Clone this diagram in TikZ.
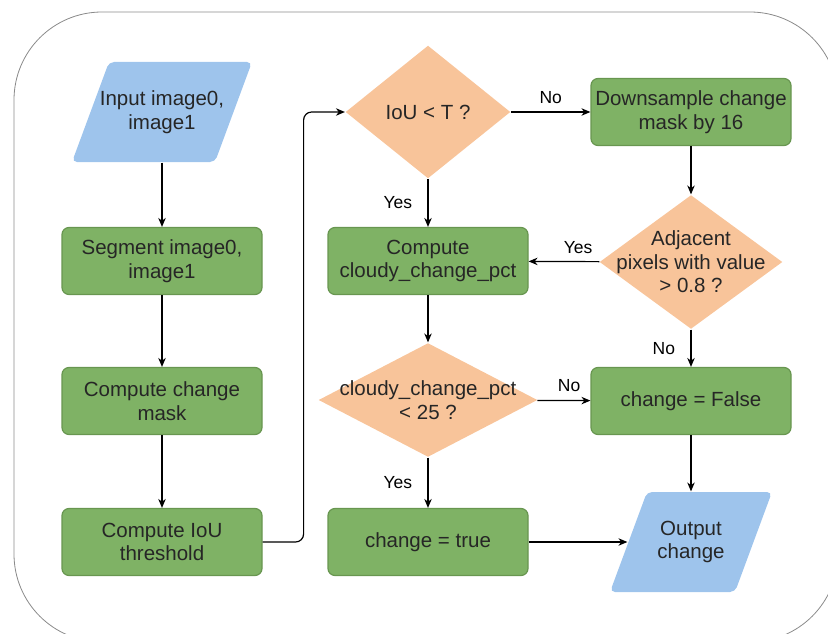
\documentclass[tikz,border=0pt]{standalone}
\usepackage{fontspec}
\setmainfont{Liberation Sans}
\usetikzlibrary{shapes.geometric,arrows.meta}

\definecolor{boxgreen}{HTML}{7FB265}
\definecolor{boxgreenline}{HTML}{689650}
\definecolor{decorange}{HTML}{F8C49A}
\definecolor{ioblue}{HTML}{9EC4EC}
\definecolor{framegray}{HTML}{8A8A8A}

\begin{document}
\begin{tikzpicture}[
    x=1pt, y=-1pt,
    line width=1.2pt,
    >={Stealth[length=9pt,width=7.5pt]},
    font=\fontsize{20.5}{23.5}\selectfont,
    stepbox/.style={
        rectangle,
        rounded corners=7pt,
        draw=boxgreenline,
        fill=boxgreen,
        align=center,
        minimum width=200pt,
        minimum height=67pt,
        text=black!85,
    },
    decision/.style={
        diamond,
        fill=decorange,
        align=center,
        inner xsep=-60pt,
        inner ysep=-20pt,
        text=black!85,
    },
    iobox/.style={
        rectangle,
        align=center,
        minimum height=100pt,
        text=black!85,
        path picture={
            \fill[ioblue, rounded corners=5pt]
                ([xshift=37pt]path picture bounding box.north west)
                -- (path picture bounding box.north east)
                -- ([xshift=-37pt]path picture bounding box.south east)
                -- (path picture bounding box.south west) -- cycle;
        },
    },
    lbl/.style={
        font=\fontsize{17.5}{20}\selectfont,
    },
]

\useasboundingbox (0,0) rectangle (828,634);
\draw[framegray, line width=0.8pt, rounded corners=88pt] (14,12) rectangle (838,642);

\node[iobox, minimum width=180pt] (inp) at (162,112) {Input image0,\\image1};
\node[stepbox] (seg)  at (162,261) {Segment image0,\\image1};
\node[stepbox] (mask) at (162,401) {Compute change\\mask};
\node[stepbox] (thr)  at (162,542) {Compute IoU\\threshold};

\node[decision, minimum width=165pt, minimum height=133pt] (iou) at (428,112) {IoU < T ?};
\node[stepbox] (pct) at (428,261) {Compute\\cloudy\_change\_pct};
\node[decision, minimum width=219pt, minimum height=114pt] (cc) at (428,400) {cloudy\_change\_pct\\< 25 ?};
\node[stepbox] (ct)  at (428,542) {change = true};

\node[stepbox] (down) at (691,112) {Downsample change\\mask by 16};
\node[decision, minimum width=183pt, minimum height=134pt] (adj) at (691,262) {Adjacent\\pixels with value\\> 0.8 ?};
\node[stepbox] (cf)  at (691,401) {change = False};
\node[iobox, minimum width=162pt] (out) at (691,542) {Output\\change};

\draw[->] (inp) -- (seg);
\draw[->] (seg) -- (mask);
\draw[->] (mask) -- (thr);
\draw[->, rounded corners=8pt] (thr.east) -- ++(41,0) |- (iou.west);

\draw[->] (iou) -- node[lbl, above=4pt]{No} (down);
\draw[->] (iou) -- node[lbl, left=12pt]{Yes} (pct);
\draw[->] (down) -- (adj);
\draw[->] (adj) -- node[lbl, pos=0.3, above=4pt]{Yes} (pct);
\draw[->] (adj) -- node[lbl, left=12pt]{No} (cf);
\draw[->] (pct) -- (cc);
\draw[->] (cc) -- node[lbl, pos=0.6, above=5pt]{No} (cf);
\draw[->] (cc) -- node[lbl, left=12pt]{Yes} (ct);
\draw[->] (cf) -- (out);
\draw[->] (ct.east) -- ([xshift=18pt]out.west);

\end{tikzpicture}
\end{document}
